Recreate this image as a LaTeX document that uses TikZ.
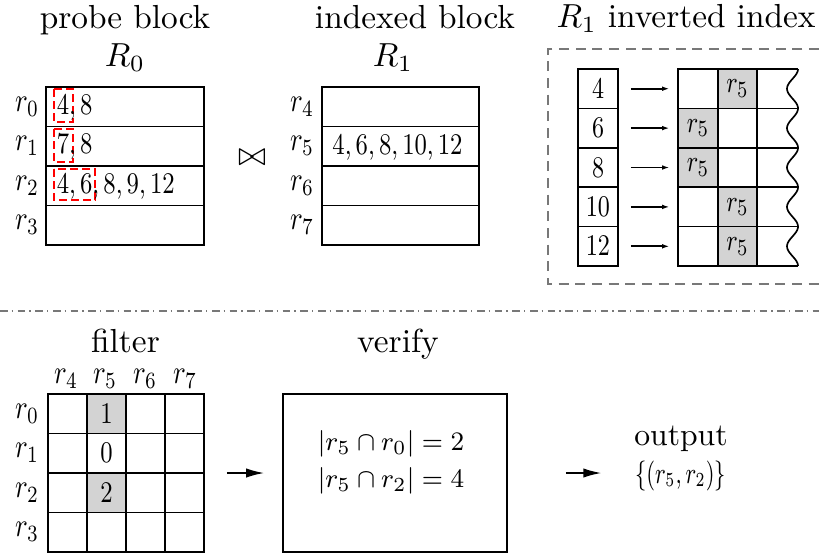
\documentclass[tikz,border=0pt]{standalone}
\usetikzlibrary{arrows.meta}
\definecolor{cellgray}{RGB}{211,211,211}
\definecolor{framegray}{RGB}{120,120,120}
\newcommand{\sqz}[2][0.8]{\scalebox{#1}[1]{#2}}
\begin{document}
\begin{tikzpicture}[x=0.3pt,y=-0.3pt,
  line width=0.5pt,
  title/.style={font=\fontsize{10}{12}\selectfont, inner sep=0pt},
  lbl/.style={font=\fontsize{10}{12}\selectfont, inner sep=0pt},
  entry/.style={font=\fontsize{9.3}{11}\selectfont, inner sep=0pt},
  frame/.style={draw, inner sep=0pt},
  keycell/.style={frame, entry, minimum width=12pt, minimum height=11.82pt},
  postcell/.style={frame, entry, minimum width=11.85pt, minimum height=11.82pt},
  shaded/.style={fill=cellgray},
  redbox/.style={draw=red, line width=0.8pt, dash pattern=on 2.5pt off 1.1pt},
  idxarrow/.style={-{Latex[length=2.2pt,width=1.4pt]}, shorten <=3.6pt, shorten >=2.4pt},
  bigarrow/.style={-{Latex[length=5.4pt,width=2.8pt]}},
]
\useasboundingbox (0,0) rectangle (819,556);

% ---------- probe block R0 ----------
\node[title, anchor=base] (tprobe) at (125,28) {probe block};
\node[title, anchor=base] (tR0) at (125,66) {$R_0$};
\node[frame, minimum width=47.4pt, minimum height=47.4pt] (probe) at (125,166) {};
\foreach \y in {126.5,166,205.5} \draw (46,\y) -- (204,\y);
\foreach \i/\y in {0/106.75,1/146.25,2/185.75,3/225.25}
  \node[lbl] (pr\i) at (27,\y) {\sqz{$r_{\i}$}};
% highlighted prefixes, drawn under the entries
\draw[redbox] (54,89) rectangle (73,122);
\draw[redbox] (54,129) rectangle (73,162);
\draw[redbox] (54,169) rectangle (95,200);
\node[entry, anchor=base west] (pc0) at (56,114) {\sqz{$4,8$}};
\node[entry, anchor=base west] (pc1) at (56,153.5) {\sqz{$7,8$}};
\node[entry, anchor=base west] (pc2) at (56,193) {\sqz{$4,6,8,9,12$}};

% ---------- join ----------
\node[title] (join) at (252,158) {$\bowtie$};

% ---------- indexed block R1 ----------
\node[title, anchor=base] (tindexed) at (415,28) {indexed block};
\node[title, anchor=base] (tR1) at (393,66) {$R_1$};
\node[frame, minimum width=47.1pt, minimum height=47.4pt] (indexed) at (400.5,166) {};
\foreach \y in {126.5,166,205.5} \draw (322,\y) -- (479,\y);
\foreach \i/\y in {4/106.75,5/146.25,6/185.75,7/225.25}
  \node[lbl] (ir\i) at (302,\y) {\sqz{$r_{\i}$}};
\node[entry, anchor=base] (ic5) at (397.5,154) {\sqz{$4,6,8,10,12$}};

% ---------- inverted index of R1 ----------
\node[title, anchor=base] (tinv) at (686,27) {$R_1$ inverted index};
\draw[framegray, line width=0.6pt, dash pattern=on 3pt off 2pt]
  (819,49) -- (548,49) -- (548,284) -- (819,284);
\foreach \i/\k in {0/4,1/6,2/8,3/10,4/12}
  \node[keycell] (k\i) at (598,{88.7+39.4*\i}) {\sqz[0.78]{$\k$}};
\foreach \i/\sa/\sb in {0/0/1,1/1/0,2/1/0,3/0/1,4/0/1}{
  \ifnum\sa=1
    \node[postcell, shaded] (c\i a) at (698,{88.7+39.4*\i}) {\sqz[0.78]{$r_5$}};
  \else
    \node[postcell] (c\i a) at (698,{88.7+39.4*\i}) {};
  \fi
  \ifnum\sb=1
    \node[postcell, shaded] (c\i b) at (737.5,{88.7+39.4*\i}) {\sqz[0.78]{$r_5$}};
  \else
    \node[postcell] (c\i b) at (737.5,{88.7+39.4*\i}) {};
  \fi
  \draw[idxarrow] (k\i) -- (c\i a);
}
\foreach \i in {0,...,5} \draw ({757},{69+39.4*\i}) -- ({798},{69+39.4*\i});
% wavy cut edge of the posting lists, one wave per row
\draw plot[domain=0:197, samples=140, variable=\t]
  ({792.5+5.5*cos(9.137*\t)}, {69+\t});

% ---------- separator ----------
\draw[framegray, line width=0.6pt, dash pattern=on 2.3pt off 1.2pt on 0.4pt off 1.4pt]
  (0,311) -- (819,311);

% ---------- filter ----------
\node[title, anchor=base] (tfilter) at (125.5,352) {filter};
\fill[cellgray] (87,394) rectangle (126,433.5);
\fill[cellgray] (87,473) rectangle (126,512.5);
\node[frame, minimum width=46.8pt, minimum height=47.4pt] (fgrid) at (126,473) {};
\foreach \x in {87,126,165} \draw (\x,394) -- (\x,552);
\foreach \y in {433.5,473,512.5} \draw (48,\y) -- (204,\y);
\foreach \j/\x in {4/66,5/105,6/145,7/185}
  \node[lbl, anchor=base] (fc\j) at (\x,383) {\sqz{$r_{\j}$}};
\foreach \i/\y in {0/413.75,1/453.25,2/492.75,3/532.25}
  \node[lbl] (fr\i) at (27,\y) {\sqz{$r_{\i}$}};
\node[entry] (f0) at (106.5,413.75) {\sqz{$1$}};
\node[entry] (f1) at (106.5,453.25) {\sqz{$0$}};
\node[entry] (f2) at (106.5,492.75) {\sqz{$2$}};

% ---------- verify ----------
\node[title, anchor=base] (tverify) at (398,352) {verify};
\node[frame, minimum width=67.2pt, minimum height=47.4pt] (vbox) at (395,473) {};
\node[font=\fontsize{8.5}{10}\selectfont, inner sep=0pt] (v0) at (391,444)
  {\sqz[0.96]{$|r_5\cap r_0|=2$}};
\node[font=\fontsize{8.5}{10}\selectfont, inner sep=0pt] (v1) at (391,481)
  {\sqz[0.96]{$|r_5\cap r_2|=4$}};
\draw[bigarrow, shorten <=6.6pt, shorten >=5.4pt] (fgrid.east) -- (vbox.west);

% ---------- output ----------
\node[font=\fontsize{9.5}{11}\selectfont, inner sep=0pt, anchor=base] (tout) at (681,445) {output};
\node[font=\fontsize{8.6}{10}\selectfont, inner sep=0pt] (outset) at (680.5,476)
  {\sqz[0.73]{$\{(r_5,r_2)\}$}};
\draw[bigarrow, shorten <=17.4pt, shorten >=9.9pt] (vbox.east) -- (vbox.east -| outset.west);
\end{tikzpicture}
\end{document}
